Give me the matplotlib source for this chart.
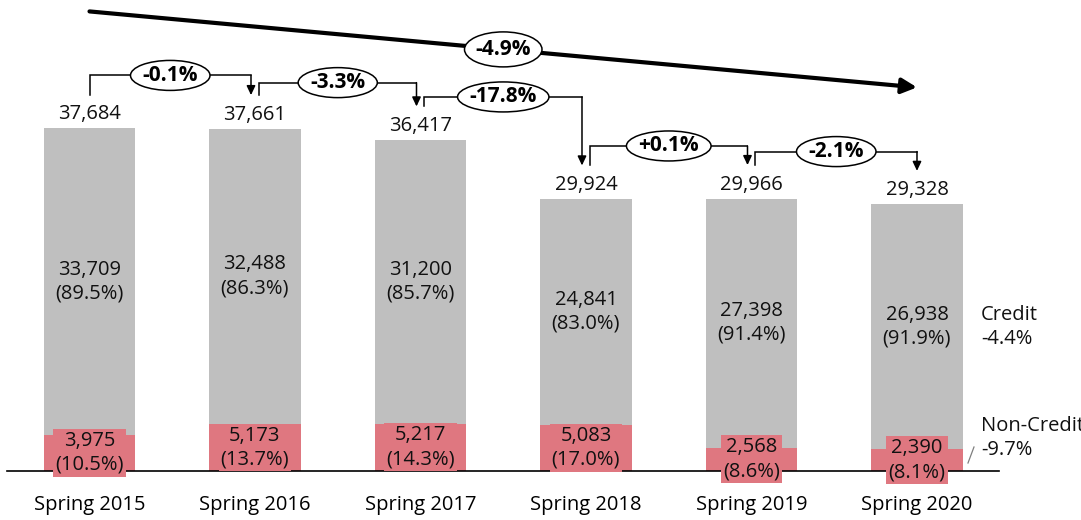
import matplotlib
matplotlib.use('Agg')
import matplotlib.pyplot as plt
from matplotlib.patches import Ellipse, FancyArrowPatch, ArrowStyle

# ---------------- data ----------------
categories = ['Spring 2015', 'Spring 2016', 'Spring 2017', 'Spring 2018', 'Spring 2019', 'Spring 2020']
credit = [33709, 32488, 31200, 24841, 27398, 26938]
noncredit = [3975, 5173, 5217, 5083, 2568, 2390]
totals = [37684, 37661, 36417, 29924, 29966, 29328]
credit_pct = ['89.5%', '86.3%', '85.7%', '83.0%', '91.4%', '91.9%']
noncredit_pct = ['10.5%', '13.7%', '14.3%', '17.0%', '8.6%', '8.1%']
yoy_change = ['-0.1%', '-3.3%', '-17.8%', '+0.1%', '-2.1%']
overall_change = '-4.9%'
credit_change = '-4.4%'
noncredit_change = '-9.7%'

# ---------------- style ----------------
GRAY = '#BFBFBF'
PINK = '#DF7780'
FONT = 'Open Sans'
FS = 14.5
bracket_rise_px = [53, 46, 43, 53, 47]

plt.rcParams['font.family'] = [FONT, 'DejaVu Sans']

W, H = 1081, 520
fig = plt.figure(figsize=(W / 100, H / 100), dpi=100)
ax = fig.add_axes([0, 0, 1, 1])
x0, x1 = -0.5408, 5.991
y0, y1 = -5390, 51810
ax.set_xlim(x0, x1)
ax.set_ylim(y0, y1)
ax.axis('off')
PXX = (x1 - x0) / W
PXY = (y1 - y0) / H

x = list(range(len(categories)))
bw = 0.555
ax.bar(x, noncredit, width=bw, color=PINK, zorder=2)
ax.bar(x, credit, bottom=noncredit, width=bw, color=GRAY, zorder=2)

# baseline
ax.axhline(0, xmin=7 / W, xmax=999 / W, color='black', lw=1.2, zorder=3)

for i in x:
    # category label
    ax.text(i, -34 * PXY, categories[i], ha='center', va='center', fontsize=FS, color='black')
    # credit label
    ax.text(i, noncredit[i] + credit[i] / 2, f"{credit[i]:,}\n({credit_pct[i]})",
            ha='center', va='center', fontsize=FS, color='#111111', linespacing=1.25, zorder=4)
    # non-credit label with pink box
    ax.text(i, noncredit[i] / 2, f"{noncredit[i]:,}\n({noncredit_pct[i]})",
            ha='center', va='center', fontsize=FS, color='#111111', linespacing=1.25, zorder=4,
            bbox=dict(boxstyle='square,pad=0.1', fc=PINK, ec='none'))
    # total label
    ax.text(i, totals[i] + 14 * PXY, f"{totals[i]:,}", ha='center', va='center',
            fontsize=FS, color='#111111', zorder=4)

renderer = fig.canvas.get_renderer()


def ellipse_label(cx, cy, label, h_px, pad_px=24):
    t = ax.text(cx, cy, label, ha='center', va='center', fontsize=15, fontweight='bold',
                color='black', zorder=7)
    ext = t.get_window_extent(renderer=renderer)
    e = Ellipse((cx, cy), (ext.width + pad_px) * PXX, h_px * PXY, fc='white', ec='black',
                lw=1.1, zorder=6)
    ax.add_patch(e)


small_head = ArrowStyle('-|>', head_length=5.5, head_width=2.6)
for i in range(len(yoy_change)):
    sx = i + (0 if i == 0 else 4 * PXX)
    ex = i + 1 - (0 if i + 1 == len(categories) - 1 else 4 * PXX)
    sb = totals[i] + 33.5 * PXY
    lv = totals[i] + bracket_rise_px[i] * PXY
    tip = totals[i + 1] + 33.5 * PXY
    ax.plot([sx, sx, ex], [sb, lv, lv], color='black', lw=1.1, zorder=5,
            solid_joinstyle='miter')
    arr = FancyArrowPatch((ex, lv), (ex, tip), arrowstyle=small_head, mutation_scale=1,
                          color='black', lw=1.1, shrinkA=0, shrinkB=0, zorder=5)
    ax.add_patch(arr)
    ellipse_label((sx + ex) / 2, lv, yoy_change[i], 30)

# overall trend arrow
ty0 = totals[0] + 117 * PXY
ty1 = totals[-1] + 117 * PXY
big_head = ArrowStyle('-|>', head_length=9, head_width=4.5)
arr = FancyArrowPatch((0, ty0), (len(categories) - 1, ty1), arrowstyle=big_head,
                      mutation_scale=1, color='black', lw=3, shrinkA=0, shrinkB=0, zorder=5)
ax.add_patch(arr)
ellipse_label((len(categories) - 1) / 2, (ty0 + ty1) / 2, overall_change, 35, pad_px=22)

# right-hand series labels
last = len(categories) - 1
lx = last + (981 - 917) * PXX
ax.text(lx, noncredit[last] + credit[last] / 2, f"Credit\n{credit_change}", ha='left',
        va='center', fontsize=FS, color='#111111', linespacing=1.25)
ax.text(lx, noncredit[last] / 2 + 22 * PXY, f"Non-Credit\n{noncredit_change}", ha='left',
        va='center', fontsize=FS, color='#111111', linespacing=1.25)
ax.plot([last + (968 - 917) * PXX, last + (974 - 917) * PXX], [8 * PXY, 24 * PXY],
        color='#7f7f7f', lw=0.9)

fig.savefig('out.png', dpi=100)
